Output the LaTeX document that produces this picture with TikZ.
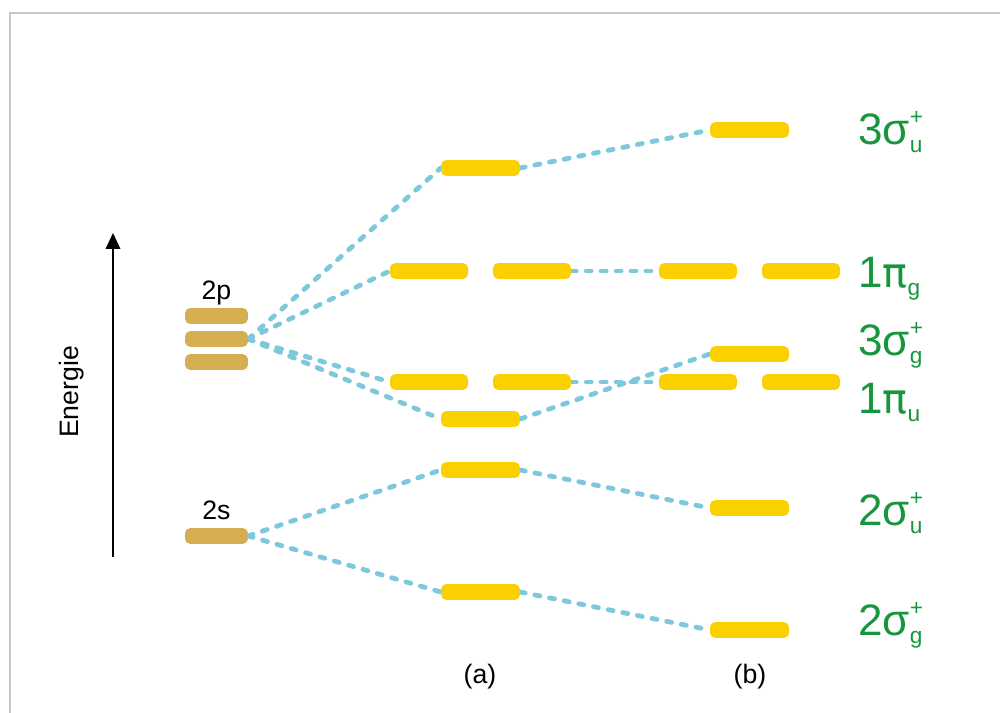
\documentclass[tikz,border=0pt]{standalone}
\usepackage{fontspec}
\setmainfont{Liberation Sans}
\newfontfamily\grkfont{DejaVu Sans}
\usetikzlibrary{arrows.meta}
\pgfdeclarelayer{bg}
\pgfsetlayers{bg,main}
\definecolor{bargold}{RGB}{213,174,82}
\definecolor{baryellow}{RGB}{250,208,0}
\definecolor{linkblue}{RGB}{126,200,220}
\definecolor{labgreen}{RGB}{24,150,62}
\definecolor{framegray}{RGB}{200,200,200}
\newcommand{\molab}[3]{\fontsize{33}{33}\selectfont #1\rlap{\fontsize{17}{17}\selectfont\raisebox{-6pt}{#2}}\raisebox{15pt}{\fontsize{17}{17}\selectfont #3}}
\newcommand{\mypi}{{\grkfont\fontsize{31}{31}\selectfont π}}
\begin{document}
\begin{tikzpicture}[x=0.75pt,y=-0.75pt,
  orb/.style={rectangle,rounded corners=3.8pt,minimum height=11.8pt,inner sep=0pt,fill=baryellow},
  sorb/.style={orb,minimum width=59.2pt},
  porb/.style={orb,minimum width=58.5pt},
  aorb/.style={orb,fill=bargold,minimum width=47.2pt},
  link/.style={draw=linkblue,line width=3.6pt,line cap=round,dash pattern=on 3.8pt off 7.4pt},
  mlab/.style={text=labgreen,anchor=base west,inner sep=0pt},
  blab/.style={font=\fontsize{20}{20}\selectfont,inner sep=0pt}]
\useasboundingbox (0,0) rectangle (1000,713);
% frame
\draw[framegray,line width=1.1pt] (10,713) -- (10,13) -- (1000,13);
% energy axis
\coordinate (ea) at (113,557);
\coordinate (eb) at (113,233);
\draw[line width=1.1pt,-{Triangle[length=12pt,width=11pt]}] (ea) -- (eb);
\node[blab,rotate=90] (energie) at (72,392) {Energie};
% atomic orbitals
\node[aorb] (p1) at (216.5,316) {};
\node[aorb] (p2) at (216.5,339) {};
\node[aorb] (p3) at (216.5,362) {};
\node[blab,anchor=base] (lp) at (216.5,299) {2p};
\node[aorb] (s) at (216.5,536) {};
\node[blab,anchor=base] (ls) at (216.5,519) {2s};
% column (a)
\node[sorb] (a3su) at (480.5,168) {};
\node[porb] (a1pg1) at (429,271) {};
\node[porb] (a1pg2) at (532,271) {};
\node[porb] (a1pu1) at (429,382) {};
\node[porb] (a1pu2) at (532,382) {};
\node[sorb] (a3sg) at (480.5,419) {};
\node[sorb] (a2su) at (480.5,470) {};
\node[sorb] (a2sg) at (480.5,592) {};
% column (b)
\node[sorb] (b3su) at (749.5,130) {};
\node[porb] (b1pg1) at (698,271) {};
\node[porb] (b1pg2) at (801,271) {};
\node[sorb] (b3sg) at (749.5,354) {};
\node[porb] (b1pu1) at (698,382) {};
\node[porb] (b1pu2) at (801,382) {};
\node[sorb] (b2su) at (749.5,508) {};
\node[sorb] (b2sg) at (749.5,630) {};
% column captions
\node[blab] (ca) at (480,677) {(a)};
\node[blab] (cb) at (750,677) {(b)};
% MO labels
\node[mlab] (l3su) at (858,145) {\molab{3σ}{u}{+}};
\node[mlab] (l1pg) at (858,287) {\molab{1\mypi}{g}{}};
\node[mlab] (l3sg) at (858,355) {\molab{3σ}{g}{+}};
\node[mlab] (l1pu) at (858,413) {\molab{1\mypi}{u}{}};
\node[mlab] (l2su) at (858,525) {\molab{2σ}{u}{+}};
\node[mlab] (l2sg) at (858,635) {\molab{2σ}{g}{+}};
% correlation lines
\begin{pgfonlayer}{bg}
\draw[link] (p2.east) -- (a3su.west);
\draw[link] (p2.east) -- (a1pg1.west);
\draw[link] (p2.east) -- (a1pu1.west);
\draw[link] (p2.east) -- (a3sg.west);
\draw[link] (s.east) -- (a2su.west);
\draw[link] (s.east) -- (a2sg.west);
\draw[link] (a3su.east) -- (b3su.west);
\draw[link] (a1pg2.east) -- (b1pg1.west);
\draw[link] (a1pu2.east) -- (b1pu1.west);
\draw[link] (a3sg.east) -- (b3sg.west);
\draw[link] (a2su.east) -- (b2su.west);
\draw[link] (a2sg.east) -- (b2sg.west);
\end{pgfonlayer}
\end{tikzpicture}
\end{document}
